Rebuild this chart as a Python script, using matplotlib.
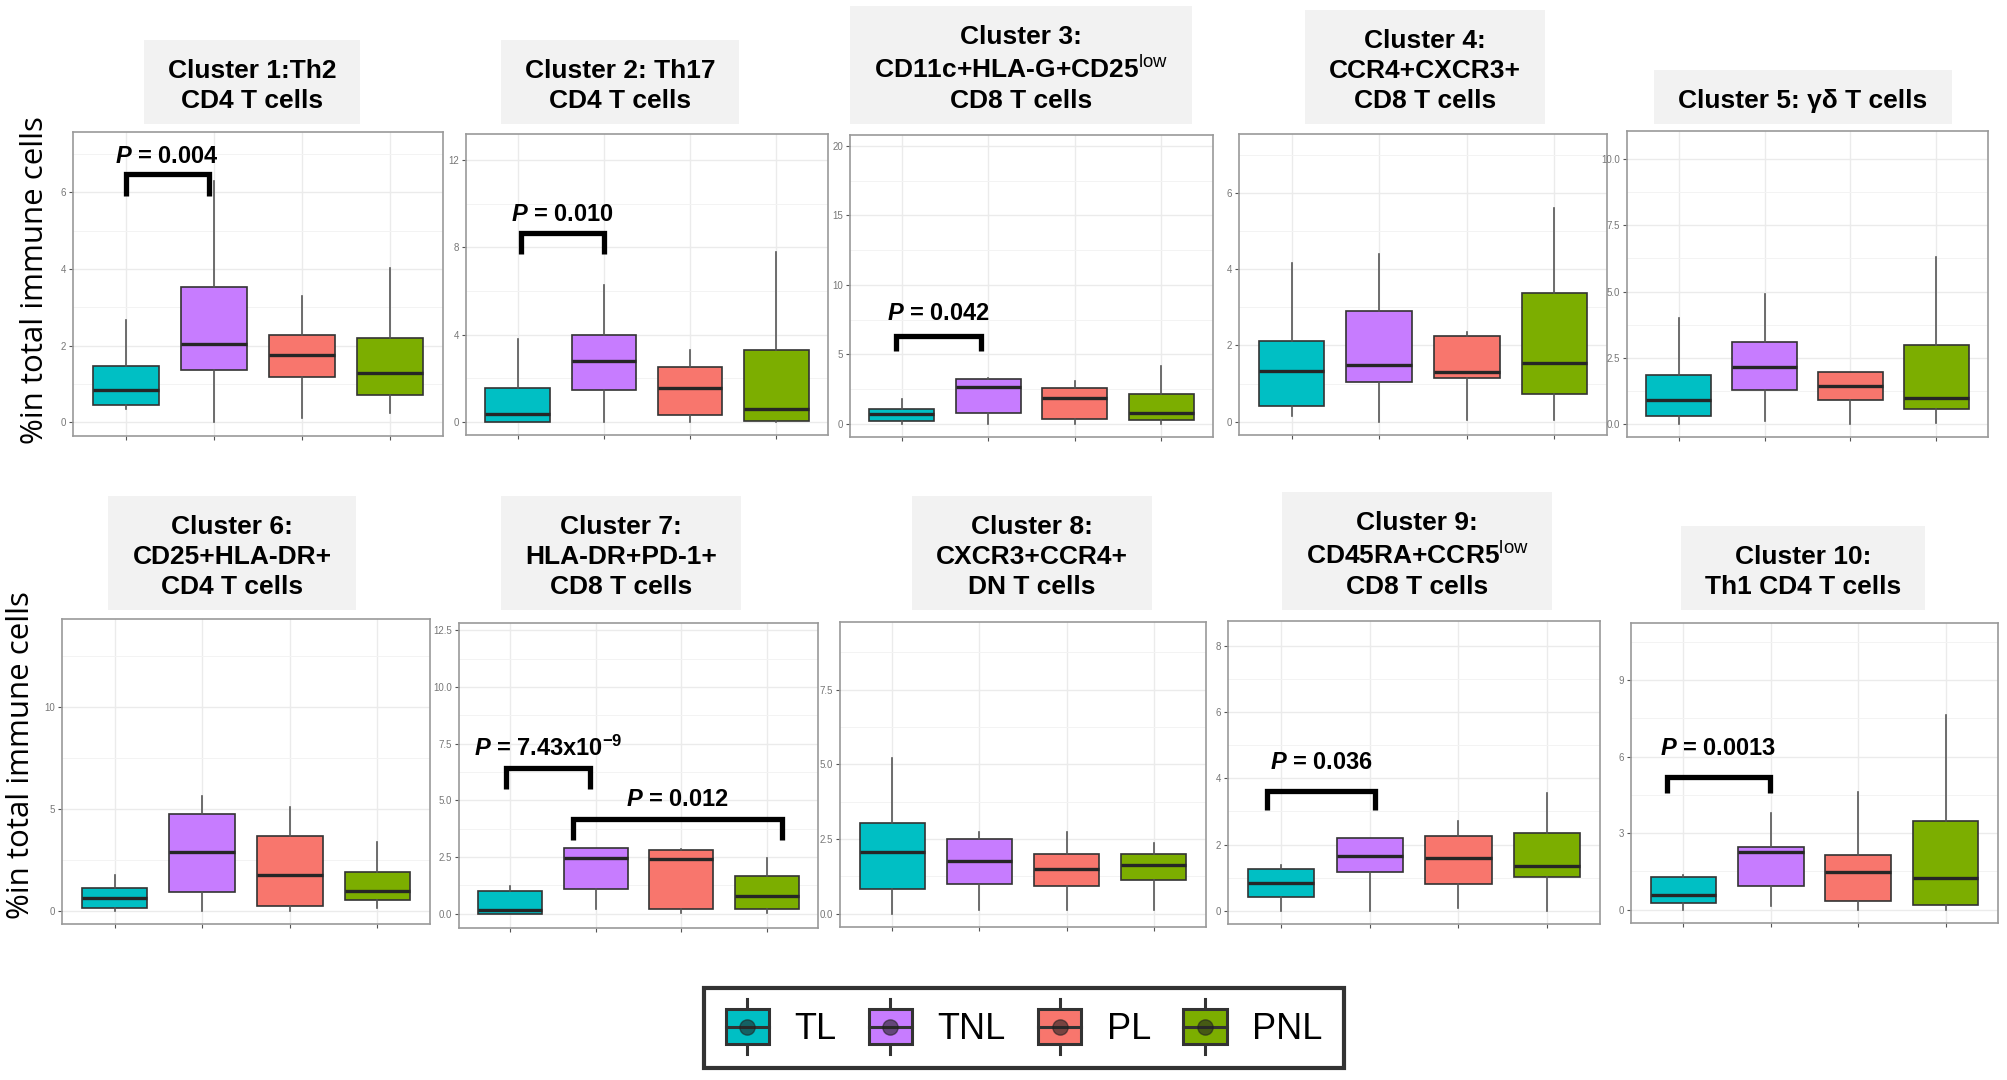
import numpy as np
import matplotlib
matplotlib.use('Agg')
import matplotlib.pyplot as plt
from matplotlib.patches import Patch, Rectangle
from matplotlib.lines import Line2D
from matplotlib.legend_handler import HandlerBase
from matplotlib.ticker import MultipleLocator

plt.rcParams['font.family'] = ['Liberation Sans', 'DejaVu Sans']
plt.rcParams['mathtext.fontset'] = 'custom'
plt.rcParams['mathtext.it'] = 'Liberation Sans:italic:bold'
plt.rcParams['mathtext.rm'] = 'Liberation Sans:bold'
plt.rcParams['mathtext.bf'] = 'Liberation Sans:bold'
plt.rcParams['mathtext.sf'] = 'Liberation Sans'

# ---------------- datos ----------------
groups = ['TL', 'TNL', 'PL', 'PNL']
colors = ['#00BFC4', '#C77CFF', '#F8766D', '#7CAE00']

titles = ['Cluster 1:Th2\nCD4 T cells',
          'Cluster 2: Th17\nCD4 T cells',
          'Cluster 3:\nCD11c+HLA-G+CD25$^{\\mathsf{low}}$\nCD8 T cells',
          'Cluster 4:\nCCR4+CXCR3+\nCD8 T cells',
          'Cluster 5: γδ T cells',
          'Cluster 6:\nCD25+HLA-DR+\nCD4 T cells',
          'Cluster 7:\nHLA-DR+PD-1+\nCD8 T cells',
          'Cluster 8:\nCXCR3+CCR4+\nDN T cells',
          'Cluster 9:\nCD45RA+CCR5$^{\\mathsf{low}}$\nCD8 T cells',
          'Cluster 10:\nTh1 CD4 T cells']

whisker_lo = [[0.34, 0.00, 0.12, 0.23],
              [0.00, 0.00, 0.00, 0.00],
              [0.00, 0.00, 0.00, 0.00],
              [0.15, 0.00, 0.04, 0.04],
              [0.00, 0.09, 0.00, 0.03],
              [0.00, 0.00, 0.00, 0.11],
              [0.00, 0.22, 0.03, 0.03],
              [0.00, 0.13, 0.13, 0.13],
              [0.00, 0.00, 0.08, 0.00],
              [0.00, 0.16, 0.00, 0.00]]
q1 = [[0.45, 1.37, 1.19, 0.70],
      [0.00, 1.45, 0.31, 0.03],
      [0.17, 0.79, 0.36, 0.24],
      [0.42, 1.04, 1.14, 0.73],
      [0.28, 1.28, 0.91, 0.55],
      [0.15, 0.90, 0.25, 0.52],
      [0.00, 1.10, 0.21, 0.21],
      [0.81, 1.00, 0.93, 1.12],
      [0.41, 1.17, 0.81, 1.02],
      [0.26, 0.94, 0.33, 0.17]]
median = [[0.84, 2.04, 1.76, 1.28],
          [0.34, 2.78, 1.53, 0.58],
          [0.72, 2.64, 1.88, 0.79],
          [1.34, 1.49, 1.30, 1.53],
          [0.91, 2.13, 1.41, 0.99],
          [0.61, 2.90, 1.75, 0.97],
          [0.15, 2.46, 2.41, 0.76],
          [2.06, 1.75, 1.51, 1.62],
          [0.83, 1.64, 1.59, 1.36],
          [0.56, 2.28, 1.46, 1.24]]
q3 = [[1.47, 3.52, 2.28, 2.19],
      [1.56, 3.97, 2.52, 3.31],
      [1.08, 3.25, 2.60, 2.12],
      [2.12, 2.91, 2.25, 3.37],
      [1.85, 3.11, 1.95, 2.96],
      [1.13, 4.73, 3.68, 1.88],
      [0.99, 2.90, 2.82, 1.65],
      [3.04, 2.50, 1.99, 1.99],
      [1.26, 2.21, 2.27, 2.34],
      [1.28, 2.44, 2.15, 3.48]]
whisker_hi = [[2.67, 6.30, 3.30, 4.03],
              [3.79, 6.26, 3.28, 7.79],
              [1.80, 3.30, 3.05, 4.16],
              [4.16, 4.40, 2.36, 5.60],
              [3.99, 4.91, 1.95, 6.32],
              [1.75, 5.60, 5.10, 3.36],
              [1.24, 2.90, 2.87, 2.46],
              [5.22, 2.73, 2.73, 2.37],
              [1.39, 2.21, 2.72, 3.55],
              [1.37, 3.81, 4.63, 7.65]]

y_limits = [(-0.36, 7.57), (-0.61, 13.2), (-0.96, 20.8), (-0.35, 7.55),
            (-0.5, 11.07), (-0.65, 14.3), (-0.63, 12.82), (-0.45, 9.77),
            (-0.4, 8.75), (-0.52, 11.24)]
y_steps = [2, 4, 5, 2, 2.5, 5, 2.5, 2.5, 2, 3]

# (panel, x izq, x der, y base, y tope, y texto, texto)
p_tests = [(0, 1.00, 1.94, 5.90, 6.48, 6.93, '$P$ = 0.004'),
           (1, 1.04, 2.00, 7.68, 8.67, 9.50, '$P$ = 0.010'),
           (2, 0.93, 1.91, 5.24, 6.32, 7.93, '$P$ = 0.042'),
           (6, 0.95, 1.93, 5.50, 6.43, 7.31, '$P$ = 7.43x10$^{-9}$'),
           (6, 1.73, 4.18, 3.26, 4.19, 5.03, '$P$ = 0.012'),
           (8, 0.84, 2.06, 3.05, 3.63, 4.47, '$P$ = 0.036'),
           (9, 0.81, 1.99, 4.56, 5.19, 6.32, '$P$ = 0.0013')]

ylabel = '%in total immune cells'

# ---------------- layout (pixeles de la figura) ----------------
W, H = 2007, 1080
# x0, y_top, x1, y_bottom
axes_px = [(73, 132, 443, 436), (466, 134, 828, 435), (850, 135, 1213, 437),
           (1239, 134, 1607, 435), (1627, 131, 1988, 437),
           (62, 619, 430, 924), (459, 623, 818, 928), (840, 622, 1206, 927),
           (1228, 621, 1600, 924), (1631, 623, 1998, 923)]
# centro x, base y de la caja de titulo
title_px = [(252, 124), (620, 124), (1021, 124), (1425, 124), (1803, 124),
            (232, 610), (621, 610), (1032, 610), (1417, 610), (1803, 610)]
pad_x, pad_top, pad_bot = 24, 19, 11


def fx(px):
    return px / W


def fy(py):
    return 1 - py / H


class BoxHandler(HandlerBase):
    # icono de boxplot para la leyenda
    def create_artists(self, legend, orig_handle, xdescent, ydescent,
                       width, height, fontsize, trans):
        fc = orig_handle.get_facecolor()
        cx = width / 2 - xdescent
        cy = height / 2 - ydescent
        bw = width
        bh = height
        wl = Line2D([cx, cx], [cy - bh * 0.78, cy + bh * 0.78],
                    color='#333333', lw=2.2, transform=trans)
        rect = Rectangle((cx - bw / 2, cy - bh / 2), bw, bh, facecolor=fc,
                         edgecolor='#333333', lw=2.2, transform=trans)
        med = Line2D([cx - bw / 2, cx + bw / 2], [cy, cy], color='#333333',
                     lw=2.2, transform=trans)
        dot = Line2D([cx], [cy], marker='o', ms=11, color='#222222',
                     alpha=0.6, transform=trans)
        return [wl, rect, med, dot]


fig = plt.figure(figsize=(W / 100, H / 100), dpi=100)

title_texts = []
for i in range(10):
    x0, yt, x1, yb = axes_px[i]
    ax = fig.add_axes([fx(x0), fy(yb), (x1 - x0) / W, (yb - yt) / H])
    stats = []
    for j in range(4):
        stats.append(dict(whislo=whisker_lo[i][j], q1=q1[i][j],
                          med=median[i][j], q3=q3[i][j],
                          whishi=whisker_hi[i][j], label=groups[j]))
    bp = ax.bxp(stats, positions=[1, 2, 3, 4], widths=0.75,
                patch_artist=True, showfliers=False, showcaps=False,
                boxprops=dict(edgecolor='#333333', lw=1.2),
                whiskerprops=dict(color='#555555', lw=1.2),
                medianprops=dict(color='#262626', lw=2.4))
    for patch, c in zip(bp['boxes'], colors):
        patch.set_facecolor(c)

    ax.set_xlim(0.4, 4.6)
    ax.set_ylim(*y_limits[i])
    ax.set_xticks([1, 2, 3, 4])
    ax.set_xticklabels([])
    ax.yaxis.set_major_locator(MultipleLocator(y_steps[i]))
    ax.yaxis.set_minor_locator(MultipleLocator(y_steps[i] / 2))
    ax.tick_params(axis='y', which='minor', length=0)
    ax.tick_params(which='major', length=3, color='#555555',
                   labelsize=7, labelcolor='#777777', pad=2)
    ax.grid(True, which='major', color='#ebebeb', lw=1.0)
    ax.grid(True, which='minor', axis='y', color='#f3f3f3', lw=0.7)
    ax.set_axisbelow(True)
    for sp in ax.spines.values():
        sp.set_color('#9a9a9a')
        sp.set_linewidth(1.2)

    for (k, xa, xb, ylo, yhi, ytxt, txt) in p_tests:
        if k != i:
            continue
        ax.plot([xa, xa, xb, xb], [ylo, yhi, yhi, ylo], color='black',
                lw=3.8, solid_joinstyle='miter', solid_capstyle='butt',
                clip_on=False, zorder=5)
        ax.text((xa + xb) / 2, ytxt, txt, ha='center', va='center',
                fontsize=17, fontweight='bold', zorder=6)

    cx, by = title_px[i]
    t = fig.text(fx(cx), fy(by - pad_bot), titles[i], ha='center',
                 va='bottom', fontsize=19, fontweight='bold',
                 linespacing=1.32, zorder=3)
    title_texts.append(t)

# cajas grises detras de los titulos
renderer = fig.canvas.get_renderer()
for t in title_texts:
    bb = t.get_window_extent(renderer)
    fig.patches.append(Rectangle((fx(bb.x0 - pad_x), (bb.y0 - pad_bot) / H),
                                 (bb.width + 2 * pad_x) / W,
                                 (bb.height + pad_top + pad_bot) / H,
                                 transform=fig.transFigure,
                                 facecolor='#f2f2f2', edgecolor='none',
                                 zorder=1))

fig.text(fx(35), fy(280), ylabel, rotation=90, ha='center', va='center',
         fontsize=22.5, family='Open Sans')
fig.text(fx(21), fy(755), ylabel, rotation=90, ha='center', va='center',
         fontsize=22.5, family='Open Sans')

handles = [Patch(facecolor=c) for c in colors]
leg = fig.legend(handles, groups, loc='center',
                 bbox_to_anchor=(fx(1024), fy(1028)), ncol=4, fontsize=26,
                 frameon=True, fancybox=False, edgecolor='black',
                 handler_map={Patch: BoxHandler()}, handlelength=1.2,
                 handleheight=1.1, handletextpad=0.7, columnspacing=0.9,
                 borderpad=0.6, borderaxespad=0)
leg.get_frame().set_linewidth(3)

fig.savefig('out.png', dpi=100)
